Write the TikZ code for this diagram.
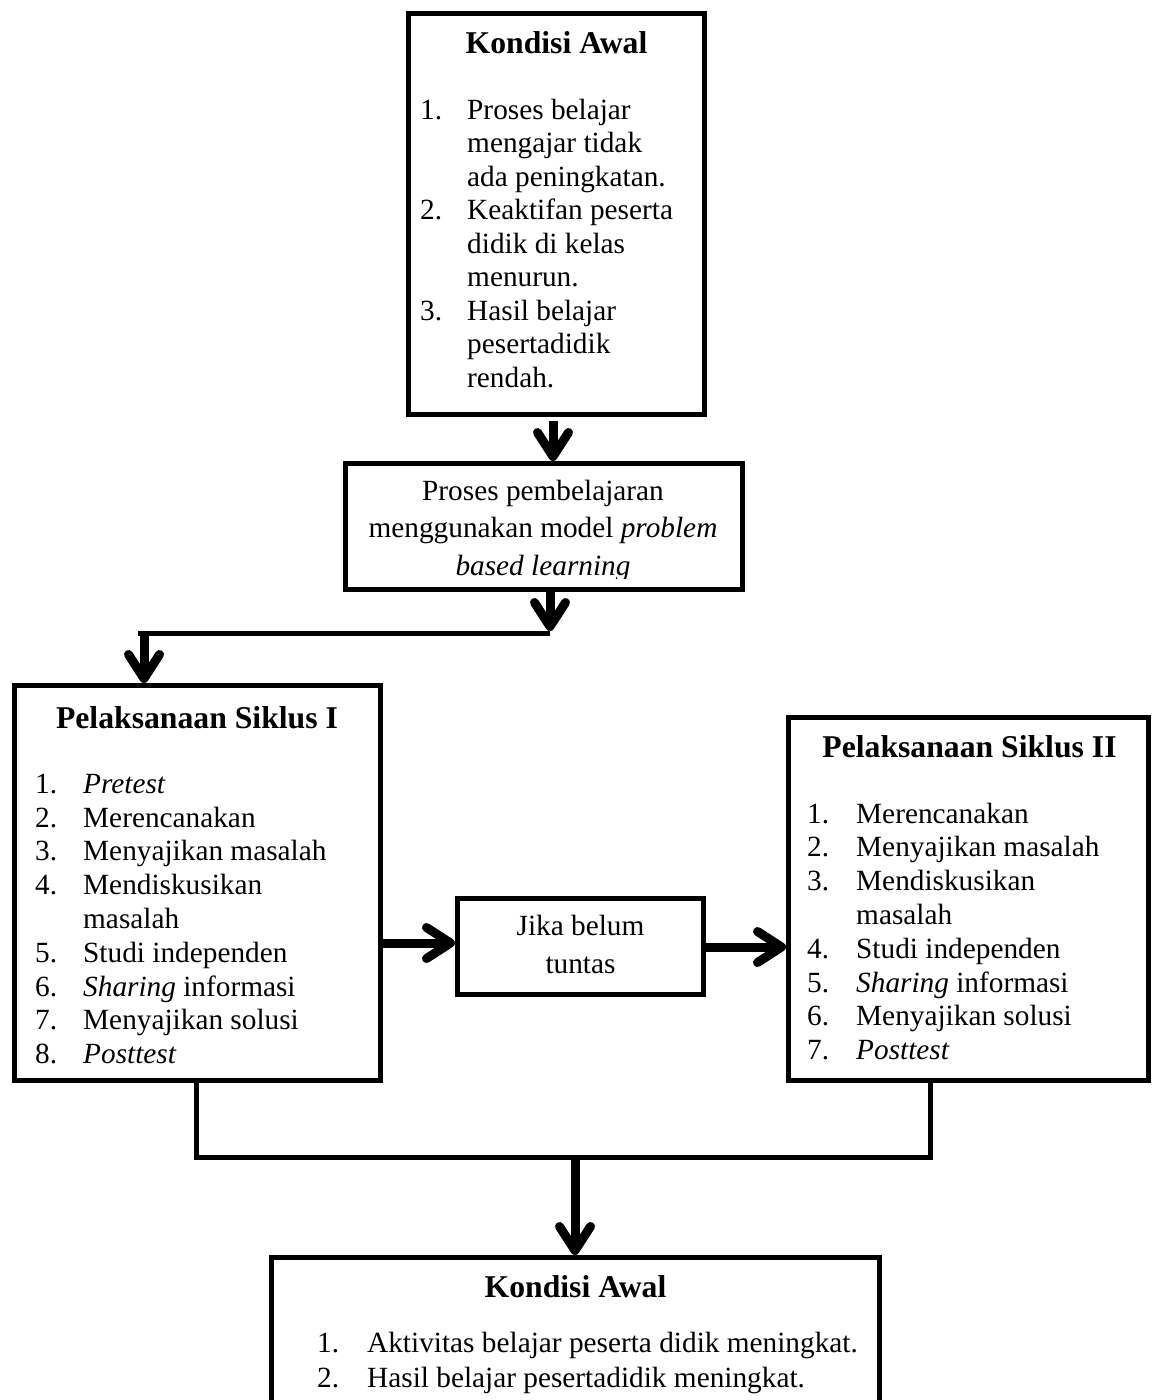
\documentclass[tikz,border=0pt]{standalone}
\usepackage{fontspec}
\setmainfont{Liberation Serif}
\usetikzlibrary{arrows.meta}
\newcommand\bodyfont{\fontsize{29.3}{33.8}\selectfont}
\newcommand\titlefont{\fontsize{31.7}{36}\selectfont\bfseries}
\begin{document}
\begin{tikzpicture}[x=1pt,y=-1pt,
  box/.style={draw, line width=5pt, rectangle, inner sep=0pt},
  txt/.style={inner sep=0pt, anchor=base west, font=\bodyfont},
  ttl/.style={inner sep=0pt, anchor=base, font=\titlefont},
  ctxt/.style={inner sep=0pt, anchor=base},
  arr/.style={line width=9pt, -{Straight Barb[length=24pt,width=31pt,round]}},
  ln/.style={line width=5pt},
]
\useasboundingbox (0,0) rectangle (1155,1400);

% boxes
\node[box, minimum width=296pt, minimum height=401pt] (b1) at (556.5,214) {};
\node[box, minimum width=397pt, minimum height=126pt] (b2) at (544,526.5) {};
\node[box, minimum width=366pt, minimum height=395pt] (b3) at (197.5,883) {};
\node[box, minimum width=246pt, minimum height=96pt] (jk) at (580.5,946.5) {};
\node[box, minimum width=360pt, minimum height=363pt] (b4) at (968.5,899) {};
\node[box, minimum width=608pt, minimum height=242.5pt] (b5) at (575.5,1378.75) {};

% box 1 text
\node[ttl] (t1) at (556.5,53) {Kondisi Awal};
\node[txt, font=\fontsize{29.3}{33.5}\selectfont] (l1) at (420,119) {\begin{tabular}[t]{@{}p{47pt}@{}l@{}}
1. & Proses belajar\\
   & mengajar tidak\\
   & ada peningkatan.\\
2. & Keaktifan peserta\\
   & didik di kelas\\
   & menurun.\\
3. & Hasil belajar\\
   & pesertadidik\\
   & rendah.
\end{tabular}};

% box 2 text (clipped at the bottom as in the original)
\begin{scope}
\clip (348,466) rectangle (740,578);
\node[ctxt, font=\fontsize{29.3}{37.5}\selectfont] (t2) at (543,500) {\begin{tabular}[t]{@{}c@{}}
Proses pembelajaran\\
menggunakan model \textit{problem}\\
\textit{based learning}
\end{tabular}};
\end{scope}

% box 3 text
\node[ttl] (t3) at (197,728) {Pelaksanaan Siklus I};
\node[txt] (l3) at (35,793.3) {\begin{tabular}[t]{@{}p{48pt}@{}l@{}}
1. & \textit{Pretest}\\
2. & Merencanakan\\
3. & Menyajikan masalah\\
4. & Mendiskusikan\\
   & masalah\\
5. & Studi independen\\
6. & \textit{Sharing} informasi\\
7. & Menyajikan solusi\\
8. & \textit{Posttest}
\end{tabular}};

% jika box text
\node[ctxt, font=\fontsize{29.3}{38}\selectfont] (tj) at (580.5,935) {\begin{tabular}[t]{@{}c@{}}
Jika belum\\
tuntas
\end{tabular}};

% box 4 text
\node[ttl] (t4) at (969.5,757) {Pelaksanaan Siklus II};
\node[txt] (l4) at (807,823) {\begin{tabular}[t]{@{}p{49pt}@{}l@{}}
1. & Merencanakan\\
2. & Menyajikan masalah\\
3. & Mendiskusikan\\
   & masalah\\
4. & Studi independen\\
5. & \textit{Sharing} informasi\\
6. & Menyajikan solusi\\
7. & \textit{Posttest}
\end{tabular}};

% box 5 text
\node[ttl] (t5) at (575.5,1297) {Kondisi Awal};
\node[txt, font=\fontsize{29.3}{35}\selectfont] (l5) at (317,1352) {\begin{tabular}[t]{@{}p{50pt}@{}l@{}}
1. & Aktivitas belajar peserta didik meningkat.\\
2. & Hasil belajar pesertadidik meningkat.
\end{tabular}};

% connectors
\coordinate (c1) at (553,0);
\draw[arr, shorten <=4pt] (b1.south -| c1) -- (b2.north -| c1);

\coordinate (j1) at (550,633.5);
\coordinate (j1s) at (550,631);
\coordinate (j2l) at (138,633.5);
\coordinate (j2) at (144,633.5);
\draw[arr] (b2.south -| j1) -- (j1s);
\draw[ln] (j1) -- (j2l);
\draw[arr] (j2) -- (j2 |- b3.north);

\coordinate (y3) at (0,943);
\coordinate (y4) at (0,947);
\draw[arr] (b3.east |- y3) -- (jk.west |- y3);
\draw[arr] (jk.east |- y4) -- (b4.west |- y4);

\coordinate (m1) at (196,1157.5);
\coordinate (m2) at (930,1157.5);
\coordinate (m0) at (575,1157.5);
\draw[ln] (b3.south -| m1) -- (m1) -- (m2) -- (b4.south -| m2);
\draw[arr] (m0) -- (b5.north -| m0);
\end{tikzpicture}
\end{document}
